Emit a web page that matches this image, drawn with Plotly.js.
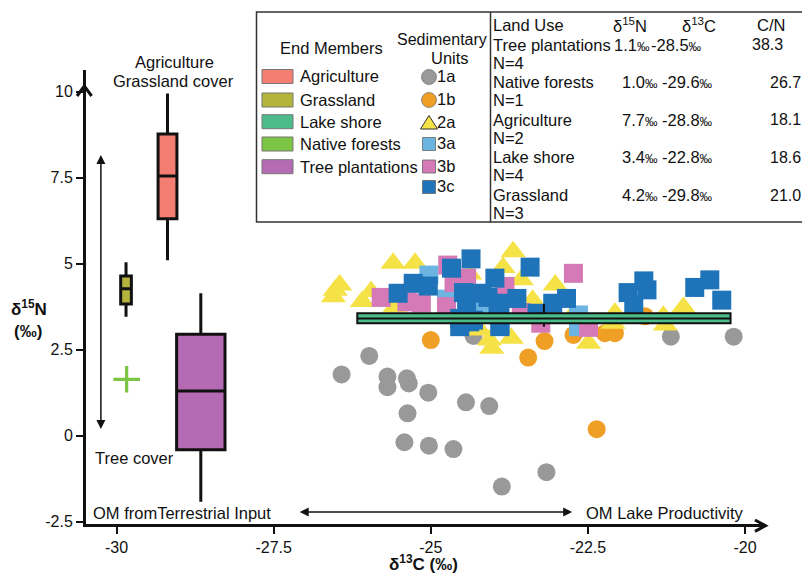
<!DOCTYPE html>
<html><head><meta charset="utf-8">
<script src="https://cdn.plot.ly/plotly-3.0.1.min.js"></script>
<style>html,body{margin:0;padding:0;background:#fff}#chart{width:802px;height:574px}</style>
</head><body><div id="chart"></div><script>
// ---------------- DATA ----------------
const xTicks = [-30, -27.5, -25, -22.5, -20];
const xTickText = ['-30', '-27.5', '-25', '-22.5', '-20'];
const yTicks = [-2.5, 0, 2.5, 5, 7.5, 10];
const yTickText = ['-2.5', '0', '2.5', '5', '7.5', '10'];

// Sedimentary units (δ13C, δ15N)
const unit1aC = [-25.98,-26.42,-25.69,-25.69,-25.38,-25.35,-25.04,-24.44,-24.07,-25.37,-25.42,-25.03,-24.64,-23.16,-23.87,-24.32,-21.18,-20.18];
const unit1aN = [2.32,1.78,1.72,1.41,1.67,1.52,1.25,0.97,0.86,0.65,-0.19,-0.29,-0.39,-1.06,-1.48,2.90,2.88,2.88];
const unit1bC = [-25.00,-23.19,-23.45,-22.36,-22.73,-22.23,-22.07,-21.59];
const unit1bN = [2.78,2.75,2.27,0.19,2.93,2.98,2.98,3.47];
const unit2aC = [-26.52,-26.45,-26.55,-25.60,-25.25,-26.09,-25.95,-25.57,-23.69,-23.85,-23.56,-23.02,-23.38,-24.03,-24.07,-23.72,-22.49,-22.07,-21.30,-20.98,-22.76,-24.38,-24.22,-22.10,-21.27];
const unit2aN = [4.23,4.38,4.04,5.01,5.01,3.90,4.19,3.75,5.35,4.89,4.53,4.38,3.94,2.54,2.78,2.83,2.69,3.56,3.47,3.73,3.47,4.70,3.07,3.27,3.22];
const unit3aC = [-25.03,-24.75,-24.14,-22.65,-22.65];
const unit3aN = [4.67,3.97,3.60,3.51,3.17];
const unit3bC = [-25.79,-25.38,-25.15,-24.73,-24.63,-24.75,-23.82,-23.56,-23.25,-22.73,-22.49,-24.43];
const unit3bN = [4.02,3.89,3.86,4.96,4.45,3.75,4.34,3.58,3.27,4.72,3.15,4.58];
const unit3cC = [-25.52,-25.28,-25.04,-24.67,-24.36,-24.48,-24.43,-24.54,-24.32,-24.19,-23.98,-24.09,-23.90,-23.90,-23.63,-23.42,-23.31,-23.06,-22.84,-21.86,-21.61,-21.56,-21.77,-20.80,-20.56,-20.37,-23.93,-24.38,-24.54,-23.90];
const unit3cN = [4.14,4.43,4.35,4.87,5.14,4.16,3.75,3.41,3.36,4.14,4.58,4.02,3.22,3.85,3.99,4.90,3.56,3.85,3.99,4.16,4.50,4.24,3.80,4.31,4.53,3.94,3.60,3.31,3.17,3.17];

// End-member box statistics (δ15N) at δ13C positions
const boxMembers = ['Agriculture', 'Grassland', 'Tree plantations', 'Lake shore'];
const boxCenterC = [-29.19, -29.85, -28.66, -23.20];
const boxLowerN  = [5.10, 3.46, -1.92, 3.17];
const boxQ1N     = [6.31, 3.83, -0.41, 3.27];
const boxMedianN = [7.55, 4.27, 1.30, 3.41];
const boxQ3N     = [8.77, 4.64, 2.95, 3.56];
const boxUpperN  = [9.95, 5.04, 4.14, 3.83];
const nativeForestC = [-29.84];
const nativeForestN = [1.64];

// Table
const tableHeader = ['Land Use', 'δ<sup>15</sup>N', 'δ<sup>13</sup>C', 'C/N'];
const landUse = ['Tree plantations', 'Native forests', 'Agriculture', 'Lake shore', 'Grassland'];
const landN15 = ['1.1', '1.0', '7.7', '3.4', '4.2'];
const landC13 = ['-28.5', '-29.6', '-28.8', '-22.8', '-29.8'];
const landCN  = ['38.3', '26.7', '18.1', '18.6', '21.0'];
const landCount = [4, 1, 2, 4, 3];
const endMemberNames = ['Agriculture', 'Grassland', 'Lake shore', 'Native forests', 'Tree plantations'];
const unitNames = ['1a', '1b', '2a', '3a', '3b', '3c'];

// ---------------- STYLE ----------------
const FONT = 'Liberation Sans, Arial, Helvetica, sans-serif';
const memberColors = {'Agriculture':'#f47e71','Grassland':'#b4b33b','Lake shore':'#4dbc8b','Native forests':'#7cc443','Tree plantations':'#b46bb3'};
const unitColors = {'1a':'#999999','1b':'#ef9f26','2a':'#f5e247','3a':'#6cb5e2','3b':'#d57ab6','3c':'#1f73b8'};
const boxWidths = [0.30, 0.17, 0.77, 5.94];
const PERMIL = '<span style="font-size:12.5px">‰</span>';

const L = 86, R = 765, T = 70, B = 524;
const px = x => (x - L) / (R - L);
const py = y => (B - y) / (B - T);

const traces = [];
function pts(c, n, unit, symbol, size) {
  traces.push({type:'scatter', mode:'markers', x:c, y:n, name:unit, showlegend:false, hoverinfo:'skip',
    marker:{symbol:symbol, size:size, color:unitColors[unit], line:{width:0}}});
}
for (let i = 0; i < 3; i++) {
  traces.push({type:'box', name:boxMembers[i], x:[boxCenterC[i]], lowerfence:[boxLowerN[i]], q1:[boxQ1N[i]],
    median:[boxMedianN[i]], q3:[boxQ3N[i]], upperfence:[boxUpperN[i]], width:boxWidths[i], whiskerwidth:0,
    boxpoints:false, fillcolor:memberColors[boxMembers[i]], line:{color:'#111', width:3}, showlegend:false, hoverinfo:'skip'});
}
traces.push({type:'scatter', mode:'markers', x:nativeForestC, y:nativeForestN, showlegend:false, hoverinfo:'skip',
  marker:{symbol:'cross-thin', size:19, line:{width:3.2, color:memberColors['Native forests']}}});
pts(unit1aC, unit1aN, '1a', 'circle', 18);
pts(unit1bC, unit1bN, '1b', 'circle', 18);
pts(unit2aC, unit2aN, '2a', 'triangle-up', 22);
pts(unit3aC, unit3aN, '3a', 'square', 19);
pts(unit3bC, unit3bN, '3b', 'square', 19);
pts(unit3cC, unit3cN, '3c', 'square', 19);
traces.push({type:'box', name:boxMembers[3], x:[boxCenterC[3]], lowerfence:[boxLowerN[3]], q1:[boxQ1N[3]],
  median:[boxMedianN[3]], q3:[boxQ3N[3]], upperfence:[boxUpperN[3]], width:boxWidths[3], whiskerwidth:0,
  boxpoints:false, fillcolor:memberColors['Lake shore'], line:{color:'#111', width:2}, showlegend:false,
  hoverinfo:'skip', xaxis:'x2', yaxis:'y2'});

const xRange = [-30 - (116.6 - L) / 62.84, -30 + (R - 116.6) / 62.84];
const yRange = [-(B - 435.7) / 34.4, 10 + (91.7 - T) / 34.4];

const annotations = [];
function txt(text, x, y, xanchor, size, extra) {
  xanchor = xanchor || 'left';
  const dx = xanchor === 'left' ? -2.5 : (xanchor === 'right' ? 2.5 : 0);
  annotations.push(Object.assign({text:text, x:px(x + dx), y:py(y), xref:'paper', yref:'paper', showarrow:false,
    xanchor:xanchor, yanchor:'middle', font:{family:FONT, size:size || 16.5, color:'#111'}}, extra || {}));
}
txt('Agriculture', 174, 62, 'center');
txt('Grassland cover', 173, 81, 'center');
txt('Tree cover', 134, 458, 'center');
txt('OM fromTerrestrial Input', 182, 513, 'center');
txt('OM Lake Productivity', 665, 513, 'center');
txt('<b>δ<sup>15</sup>N</b>', 29, 308, 'center', 17);
txt('<b>(‰)</b>', 28, 331, 'center', 17);
txt('<b>δ<sup>13</sup>C (‰)</b>', 423, 563, 'center', 17);
annotations.push({x:-30.25, y:8.16, ax:-30.25, ay:0.15, xref:'x', yref:'y', axref:'x', ayref:'y', text:'',
  showarrow:true, arrowside:'end+start', arrowhead:2, startarrowhead:2, arrowsize:1.2, startarrowsize:1.2,
  arrowwidth:1.5, arrowcolor:'#111', standoff:0, startstandoff:0});
annotations.push({x:-22.75, y:-2.22, ax:-27.11, ay:-2.22, xref:'x', yref:'y', axref:'x', ayref:'y', text:'',
  showarrow:true, arrowside:'end+start', arrowhead:2, startarrowhead:2, arrowsize:1.2, startarrowsize:1.2,
  arrowwidth:1.5, arrowcolor:'#111', standoff:0, startstandoff:0});

txt('End Members', 331, 48, 'center');
txt('Sedimentary', 442, 40, 'center', 16);
txt('Units', 450, 58, 'center');
const swatchY = [76.5, 100, 121.7, 144, 166.7];
endMemberNames.forEach((n, i) => txt(n, 300, swatchY[i], 'left'));
const unitY = [77, 100, 122.5, 144, 166.5, 187];
unitNames.forEach((u, i) => txt(u, 438, unitY[i] - 1, 'left'));
const headX = [493, 613, 682, 757];
tableHeader.forEach((h, i) => txt(h, headX[i], 25, 'left'));
const rowY = [45, 82, 120, 157, 195];
landUse.forEach((n, i) => {
  txt(n, 493, rowY[i], 'left');
  txt(landN15[i] + PERMIL, i === 0 ? 614 : 622, rowY[i], 'left');
  txt(landC13[i] + PERMIL, i === 0 ? 651 : 662, rowY[i], 'left');
  txt(landCN[i], i === 0 ? 752 : 770, rowY[i], 'left', 16);
  txt('N=' + landCount[i], 493, rowY[i] + 18, 'left');
});

const shapes = [];
function pathOf(points, closed) {
  return points.map((p, i) => (i ? 'L' : 'M') + px(p[0]).toFixed(5) + ',' + py(p[1]).toFixed(5)).join(' ') + (closed ? ' Z' : '');
}
function rectPx(x0, y0, x1, y1, fill, lineColor, lw) {
  shapes.push({type:'rect', xref:'paper', yref:'paper', x0:px(x0), x1:px(x1), y0:py(y1), y1:py(y0),
    fillcolor:fill, line:{color:lineColor, width:lw}, layer:'above'});
}
rectPx(256.5, 12, 808, 222, 'rgba(0,0,0,0)', '#333', 1.5);
shapes.push({type:'line', xref:'paper', yref:'paper', x0:px(490.5), x1:px(490.5), y0:py(12), y1:py(222), line:{color:'#333', width:1.5}});
endMemberNames.forEach((n, i) => rectPx(262, swatchY[i] - 7, 293, swatchY[i] + 7, memberColors[n], '#777', 1));
const sx = 429;
[0, 1].forEach(i => shapes.push({type:'circle', xref:'paper', yref:'paper', x0:px(sx - 7.5), x1:px(sx + 7.5),
  y0:py(unitY[i] + 7.5), y1:py(unitY[i] - 7.5), fillcolor:unitColors[unitNames[i]], line:{color:'#777', width:0.8}}));
shapes.push({type:'path', xref:'paper', yref:'paper', path:pathOf([[sx - 8.5, 129], [sx + 8.5, 129], [sx, 115.5]], true),
  fillcolor:unitColors['2a'], line:{color:'#333', width:1}});
[3, 4, 5].forEach(i => rectPx(sx - 6.5, unitY[i] - 6.5, sx + 6.5, unitY[i] + 6.5, unitColors[unitNames[i]], '#666', 0.8));
shapes.push({type:'path', xref:'paper', yref:'paper', path:pathOf([[77, 96], [84.3, 86], [91.6, 96]], false),
  line:{color:'#111', width:3}});
shapes.push({type:'path', xref:'paper', yref:'paper', path:pathOf([[755, 520], [765.5, 525.7], [755, 531.4]], false),
  line:{color:'#111', width:3}});

const axisCommon = {showgrid:false, zeroline:false, showline:true, linecolor:'#111', linewidth:3, ticks:'outside',
  ticklen:7, tickwidth:2, tickcolor:'#111', tickfont:{family:FONT, size:16, color:'#111'}, fixedrange:true};

const layout = {
  width:802, height:574, margin:{l:L, r:802 - R, t:T, b:574 - B}, paper_bgcolor:'#fff', plot_bgcolor:'#fff',
  showlegend:false, boxmode:'overlay',
  xaxis:Object.assign({}, axisCommon, {range:xRange, tickvals:xTicks, ticktext:xTickText}),
  yaxis:Object.assign({}, axisCommon, {range:yRange, tickvals:yTicks, ticktext:yTickText}),
  xaxis2:{overlaying:'x', range:xRange, visible:false, fixedrange:true},
  yaxis2:{overlaying:'y', range:yRange, visible:false, fixedrange:true},
  annotations:annotations, shapes:shapes
};
Plotly.newPlot('chart', traces, layout, {displayModeBar:false, staticPlot:true});
</script></body></html>
